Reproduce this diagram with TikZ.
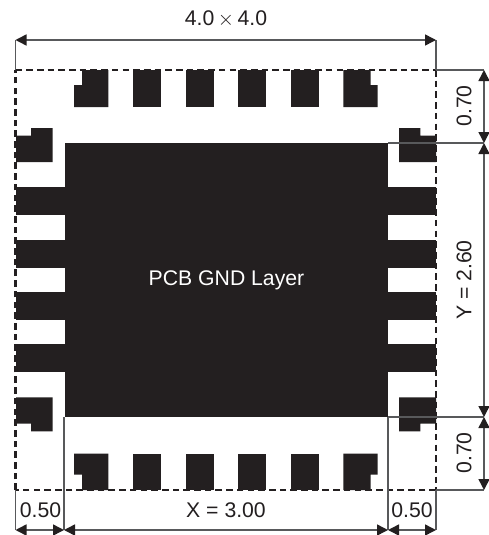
\documentclass[tikz,border=0pt]{standalone}
\usepackage{fontspec}
\setmainfont{Liberation Sans}
\usetikzlibrary{arrows.meta}
\definecolor{padc}{HTML}{231F20}
\definecolor{dimc}{HTML}{58595B}
\tikzset{
  padfill/.style={fill=padc,draw=none},
  ext/.style={draw=dimc,line width=1.3pt},
  dimarrow/.style={draw=dimc,line width=1.5pt,{Triangle[length=11pt,width=11pt,color=padc]}-{Triangle[length=11pt,width=11pt,color=padc]},shorten >=0pt,shorten <=0pt},
  outline/.style={draw=padc,line width=2.8pt,dash pattern=on 6.6pt off 4.1pt},
  lbl/.style={text=padc,font=\fontsize{21.2}{25}\selectfont,inner sep=0pt},
}
\begin{document}
\begin{tikzpicture}[x=1pt,y=-1pt]
\useasboundingbox (0,0) rectangle (488,535);
\fill[white] (0,0) rectangle (488,535);
% key coordinates
\coordinate (TLo) at (15.5,70);
\coordinate (TRo) at (436,70);
\coordinate (BLo) at (15.5,490);
\coordinate (BRo) at (436,490);
\coordinate (TL) at (15.5,40);
\coordinate (TR) at (436,40);
\coordinate (R0) at (484,70);
\coordinate (R1) at (484,143);
\coordinate (R2) at (484,417);
\coordinate (R3) at (484,490);
\coordinate (PR1) at (388,143);
\coordinate (PR2) at (388,417);
\coordinate (PL2) at (64,417);
\coordinate (B0) at (15.5,530);
\coordinate (B1) at (64,530);
\coordinate (B2) at (388,530);
\coordinate (B3) at (436,530);
% ground pad and side fingers
\fill[padfill] (65,143) rectangle (388,417);
\foreach \yy in {187,240,292,344} {
  \fill[padfill] (16,\yy) rectangle (65,\yy+28);
  \fill[padfill] (388,\yy) rectangle (436,\yy+28);
}
% top and bottom pads
\foreach \xx in {133,186,238,291} {
  \fill[padfill] (\xx,70) rectangle (\xx+28,107);
  \fill[padfill] (\xx,453.5) rectangle (\xx+28,490);
}
% notched corner pads
\fill[padfill] (82,70) -- (108.3,70) -- (108.3,107) -- (74,107) -- (74,85) -- (82,85) -- cycle;
\fill[padfill] (343.3,70) -- (370.7,70) -- (370.7,85) -- (377.7,85) -- (377.7,107) -- (343.3,107) -- cycle;
\fill[padfill] (74,453.5) -- (108.3,453.5) -- (108.3,490) -- (82,490) -- (82,474.5) -- (74,474.5) -- cycle;
\fill[padfill] (343.3,453.5) -- (377.7,453.5) -- (377.7,474.5) -- (370.7,474.5) -- (370.7,490) -- (343.3,490) -- cycle;
\fill[padfill] (16,135.7) -- (31,135.7) -- (31,128) -- (52.5,128) -- (52.5,162) -- (16,162) -- cycle;
\fill[padfill] (399,128) -- (420.3,128) -- (420.3,135.7) -- (436,135.7) -- (436,162) -- (399,162) -- cycle;
\fill[padfill] (16,397.3) -- (52.5,397.3) -- (52.5,431.3) -- (31,431.3) -- (31,423.7) -- (16,423.7) -- cycle;
\fill[padfill] (399,397.3) -- (436,397.3) -- (436,423.7) -- (420.3,423.7) -- (420.3,431.3) -- (399,431.3) -- cycle;
% package outline
\draw[outline] (TLo) -- (TRo);
\draw[outline] (TRo) -- (BRo);
\draw[outline] (BRo) -- (BLo);
\draw[outline] (BLo) -- (TLo);
% extension lines
\draw[ext] (TL) -- (TLo);
\draw[ext] (TR) -- (TRo);
\draw[ext] (TRo) -- (R0);
\draw[ext] (PR1) -- (R1);
\draw[ext] (PR2) -- (R2);
\draw[ext] (BRo) -- (R3);
\draw[ext] (BLo) -- (B0);
\draw[ext] (PL2) -- (B1);
\draw[ext] (PR2) -- (B2);
\draw[ext] (BRo) -- (B3);
% dimension arrows
\draw[dimarrow] (TL) -- (TR);
\draw[dimarrow] (R0) -- (R1);
\draw[dimarrow] (R1) -- (R2);
\draw[dimarrow] (R2) -- (R3);
\draw[dimarrow] (B0) -- (B1);
\draw[dimarrow] (B1) -- (B2);
\draw[dimarrow] (B2) -- (B3);
% labels
\node[lbl] (size) at (226,19) {4.0\,$\times$\,4.0};
\node[lbl,text=white] (gnd) at (226.5,280) {PCB GND Layer};
\node[lbl,rotate=90] (h1) at (464,106) {0.70};
\node[lbl,rotate=90] (h2) at (464,280) {Y = 2.60};
\node[lbl,rotate=90] (h3) at (464,453) {0.70};
\node[lbl] (w1) at (40.5,510) {0.50};
\node[lbl] (w2) at (226,510) {X = 3.00};
\node[lbl] (w3) at (412,510) {0.50};
\end{tikzpicture}
\end{document}
